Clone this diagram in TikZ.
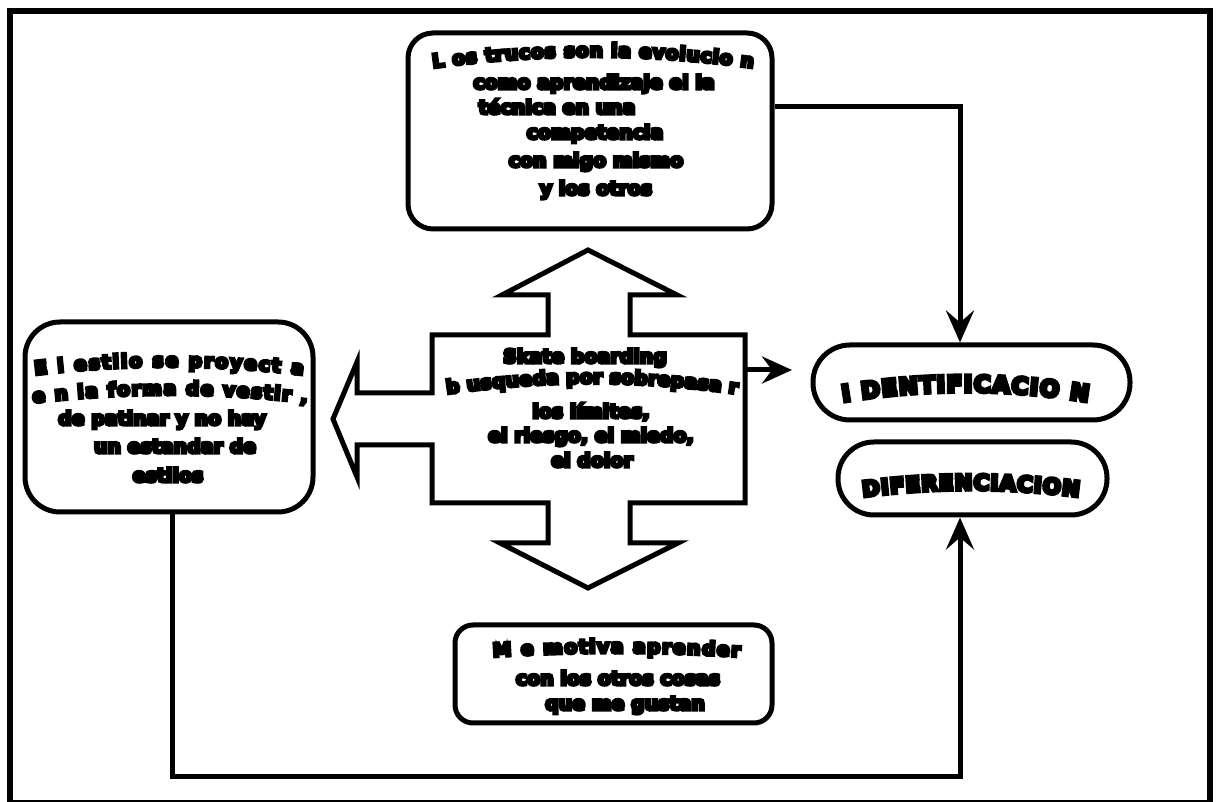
\documentclass[tikz,border=0pt]{standalone}
\usepackage{fontspec}
\usetikzlibrary{arrows.meta,decorations.text}
\newfontfamily\wa{DejaVu Sans Bold}[BoldFont={DejaVu Sans Bold}, BoldFeatures={FakeBold=16}]
\newcommand{\wasize}{\wa\bfseries\fontsize{19}{25}\selectfont}
\newcommand{\wabig}{\wa\bfseries\fontsize{23}{28}\selectfont}
\newcommand{\wamid}{\wa\bfseries\fontsize{21.5}{26}\selectfont}
\tikzset{
  frame/.style={line width=6pt},
  box/.style={draw, line width=5pt, inner sep=0pt},
  ln/.style={anchor=base, inner sep=0pt, font=\wasize},
  conn/.style={line width=5pt, -{Stealth[length=32pt,width=28pt,inset=12pt]}},
  short/.style={line width=5pt, -{Stealth[length=30pt,width=27pt,inset=10pt]}},
  hub/.style={line width=5pt, line join=miter},
  arcline/.style={decorate, decoration={text along path, text align=fit to path}},
}
\begin{document}
\begin{tikzpicture}[x=1pt,y=1pt]
\useasboundingbox (0,0) rectangle (1221,802);
\fill[white] (0,0) rectangle (1221,802);
\draw[frame] (10,791) rectangle (1210,-1.5);

% boxes
\node[box, rounded corners=25pt, minimum width=364pt, minimum height=196pt] (tricks) at (590,671) {};
\node[box, rounded corners=35pt, minimum width=288pt, minimum height=190pt] (estilo) at (169,385) {};
\node[box, rounded corners=37pt, minimum width=317pt, minimum height=75pt] (ident) at (971.5,419.5) {};
\node[box, rounded corners=36pt, minimum width=269pt, minimum height=73pt] (difer) at (972.5,323.5) {};
\node[box, rounded corners=18pt, minimum width=317pt, minimum height=98pt] (motiva) at (613.5,128) {};

% central block with three broad arrows
\draw[hub] (588,552) -- (677,507) -- (630,507) -- (630,467) -- (745,467) -- (745,299)
  -- (630,299) -- (630,259) -- (678,259) -- (588,214) -- (500,259) -- (548,259)
  -- (548,299) -- (432,299) -- (432,357) -- (357,357) -- (357,325) -- (333,383)
  -- (357,440) -- (357,409) -- (432,409) -- (432,467) -- (548,467) -- (548,507)
  -- (502,507) -- cycle;
\node[minimum width=313pt, minimum height=168pt, inner sep=0pt] (skate) at (588.5,383) {};

% text: tricks
\path[arcline, decoration={text={|\wasize|L os trucos son la evolucio n}}]
  (433,734) .. controls (540,748.7) and (646,748.7) .. (753,734);
\node[ln] (tr2) at (594,713) {como aprendizaje el la};
\node[ln] (tr3) at (557,688) {técnica en una};
\node[ln] (tr4) at (595,663) {competencia};
\node[ln] (tr5) at (596,635) {con migo mismo};
\node[ln] (tr6) at (596,607) {y los otros};

% text: estilo
\path[arcline, decoration={text={|\wasize|E l estilo se proyect a}}]
  (35,427) .. controls (124,437.7) and (214,437.7) .. (303,427);
\path[arcline, decoration={text={|\wasize|e n la forma de vestir ,}}]
  (33,399) .. controls (124,409.7) and (216,409.7) .. (307,399);
\node[ln] (es3) at (162,377) {de patinar y no hay};
\node[ln] (es4) at (175,349) {un estandar de};
\node[ln] (es5) at (168,320) {estilos};

% text: centre
\node[ln] (sk1) at (585,439) {Skate boarding};
\path[arcline, decoration={text={|\wasize|b usqueda por sobrepasa r}}]
  (447,408) .. controls (544,422) and (640,422) .. (737,408);
\node[ln] (sk3) at (591,384) {los límites,};
\node[ln] (sk4) at (591,360) {el riesgo, el miedo,};
\node[ln] (sk5) at (592,335) {el dolor};

% text: ovals
\path[arcline, decoration={text={|\wabig|I DENTIFICACIO N}}]
  (843,400) .. controls (925,413.3) and (1006,413.3) .. (1088,400);
\path[arcline, decoration={text={|\wamid|DIFERENCIACION}}]
  (863,305) .. controls (934,314.3) and (1006,314.3) .. (1079,305);

% text: motiva
\path[arcline, decoration={text={|\wasize|M e motiva aprender}}]
  (493,145) .. controls (575,150.3) and (658,150.3) .. (740,145);
\node[ln] (mo2) at (618,117) {con los otros cosas};
\node[ln] (mo3) at (625,92) {que me gustan};

% connectors
\coordinate (rtip) at (792,432);
\draw[short] (skate.east |- rtip) -- (rtip);
\draw[conn] ([yshift=24pt]tricks.east) -| ([xshift=-11.5pt]ident.north);
\coordinate (low) at (600,25);
\draw[conn] ([xshift=3pt]estilo.south) |- (low) -| ([xshift=-12.5pt]difer.south);
\end{tikzpicture}
\end{document}
